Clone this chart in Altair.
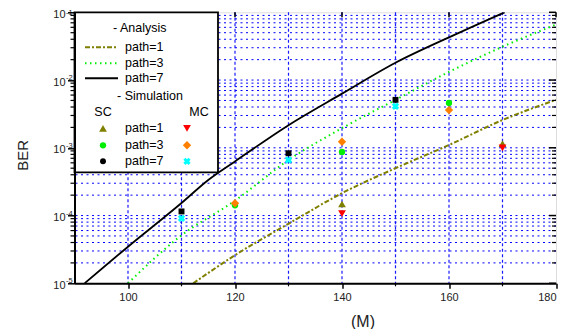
import altair as alt
import pandas as pd

# ---------------- data ----------------
# Analysis curves (M, BER)
p1_m = [112.2, 120, 130.3, 140, 150, 160, 170, 180]
p1_ber = [1e-5, 2.6e-5, 7.8e-5, 2.14e-4, 5.0e-4, 1.1e-3, 2.57e-3, 5.1e-3]
p3_m = [100, 109.7, 120, 130, 140, 150, 160, 170, 180]
p3_ber = [1e-5, 4.9e-5, 1.66e-4, 6.6e-4, 1.95e-3, 5.1e-3, 1.32e-2, 3.1e-2, 6.6e-2]
p7_m = [91.9, 100, 110, 115, 120, 130, 140, 150, 160, 170.4]
p7_ber = [1e-5, 3.47e-5, 1.53e-4, 3.35e-4, 6.3e-4, 2.16e-3, 6.3e-3, 1.8e-2, 4.27e-2, 1e-1]

# Simulation points
sc1_m, sc1_ber = [140, 170], [1.48e-4, 1.15e-3]
mc1_m, mc1_ber = [140, 170], [1.07e-4, 1.0e-3]
sc3_m, sc3_ber = [120, 140, 160], [1.42e-4, 8.7e-4, 4.6e-3]
mc3_m, mc3_ber = [120, 140, 160], [1.52e-4, 1.23e-3, 3.6e-3]
sc7_m, sc7_ber = [110, 130, 150], [1.15e-4, 8.3e-4, 5.1e-3]
mc7_m, mc7_ber = [110, 130, 150], [9.1e-5, 6.6e-4, 4.1e-3]

# axis ticks
x_major = [100, 120, 140, 160, 180]
x_minor = [110, 130, 150, 170]
x_grid = [100, 110, 120, 130, 140, 150, 160, 170]
decade_exp = [-1, -2, -3, -4, -5]
decades = [10.0 ** e for e in decade_exp]
y_minor = [m * 10.0 ** e for e in [-5, -4, -3, -2] for m in range(2, 10)]
y_grid = [m * 10.0 ** e for e in [-5, -4, -3, -2] for m in range(1, 10)][1:]

# ---------------- layout ----------------
W, H = 481.5, 271
FONT = "Liberation Sans"
TXT = "#222222"
xs = alt.Scale(domain=[90, 180], nice=False, zero=False)
ys = alt.Scale(type="log", domain=[1e-5, 1e-1], nice=False)
X_AX = alt.Axis(values=x_major, format="d", tickSize=5, tickWidth=1.5, tickColor="black",
                domainColor="black", domainWidth=2, labelFontSize=11, labelPadding=3,
                labelColor=TXT, labelFont=FONT, grid=False, title=None, zindex=1)
Y_AX = alt.Axis(values=decades, labels=False, tickSize=7, tickWidth=1.5, tickColor="black",
                domainColor="black", domainWidth=2, grid=False, title=None, zindex=1)


def X(f="m"):
    return alt.X(f + ":Q", scale=xs, axis=X_AX)


def Y(f="ber"):
    return alt.Y(f + ":Q", scale=ys, axis=Y_AX)


def one():
    return alt.Data(values=[{"a": 1}])


layers = []

# grid
layers.append(alt.Chart(pd.DataFrame({"m": x_grid})).mark_rule(
    color="#1a1aff", strokeDash=[3, 2.5], strokeWidth=1.2).encode(x=X()))
layers.append(alt.Chart(pd.DataFrame({"ber": y_grid})).mark_rule(
    color="#0000ff", strokeDash=[2, 3.5], strokeWidth=1).encode(y=Y()))

# analysis lines
layers.append(alt.Chart(pd.DataFrame({"m": p1_m, "ber": p1_ber})).mark_line(
    color="#808000", strokeWidth=2, strokeDash=[5, 2, 2, 2], interpolate="monotone", clip=True
).encode(x=X(), y=Y()))
layers.append(alt.Chart(pd.DataFrame({"m": p3_m, "ber": p3_ber})).mark_line(
    color="#00ee00", strokeWidth=2, strokeDash=[1.5, 3.5], interpolate="monotone", clip=True
).encode(x=X(), y=Y()))
layers.append(alt.Chart(pd.DataFrame({"m": p7_m, "ber": p7_ber})).mark_line(
    color="black", strokeWidth=1.8, interpolate="monotone", clip=True
).encode(x=X(), y=Y()))

# simulation markers
MK = [
    (sc1_m, sc1_ber, "triangle-up", "#808000", 60, 0),
    (mc1_m, mc1_ber, "triangle-down", "#ff0000", 60, 0),
    (sc3_m, sc3_ber, "circle", "#00ee00", 40, 0),
    (mc3_m, mc3_ber, "diamond", "#ff8000", 70, 0),
    (sc7_m, sc7_ber, "square", "black", 35, 0),
    (mc7_m, mc7_ber, "cross", "#00ffff", 55, 45),
]
for mm, bb, shp, col, sz, ang in MK:
    layers.append(alt.Chart(pd.DataFrame({"m": mm, "ber": bb})).mark_point(
        shape=shp, color=col, filled=True, size=sz, opacity=1, angle=ang
    ).encode(x=X(), y=Y()))

# extra ticks: left minor (outward), right (inward), top (inward), bottom minor
layers.append(alt.Chart(pd.DataFrame({"ber": y_minor})).mark_rule(color="black", strokeWidth=1.2).encode(
    y=Y(), x=alt.value(-4), x2=alt.value(0)))
layers.append(alt.Chart(pd.DataFrame({"ber": y_minor})).mark_rule(color="black", strokeWidth=1.2).encode(
    y=Y(), x=alt.value(W - 4), x2=alt.value(W)))
layers.append(alt.Chart(pd.DataFrame({"ber": decades})).mark_rule(color="black", strokeWidth=1.5).encode(
    y=Y(), x=alt.value(W - 7), x2=alt.value(W)))
layers.append(alt.Chart(pd.DataFrame({"m": x_major})).mark_tick(
    color="black", thickness=1.5, size=5, opacity=1).encode(x=X(), y=alt.value(2.5)))
layers.append(alt.Chart(pd.DataFrame({"m": x_minor})).mark_tick(
    color="black", thickness=1.2, size=3, opacity=1).encode(x=X(), y=alt.value(H + 1.5)))

# y tick labels 10^n
lab = pd.DataFrame({"ber": decades, "e": [str(e) for e in decade_exp]})
layers.append(alt.Chart(lab).mark_text(align="right", baseline="alphabetic", dy=5.5, fontSize=11,
                                       font=FONT, color=TXT).encode(
    y=Y(), x=alt.value(-9), text=alt.value("10")))
layers.append(alt.Chart(lab.iloc[1:]).mark_text(align="left", baseline="alphabetic", dy=0, fontSize=7.5,
                                                font=FONT, color=TXT).encode(
    y=Y(), x=alt.value(-8.5), text="e:N"))
layers.append(alt.Chart(lab.iloc[:1]).mark_text(align="left", baseline="alphabetic", dy=2.5, fontSize=7.5,
                                                font=FONT, color=TXT).encode(
    y=Y(), x=alt.value(-8.5), text="e:N"))

# axis titles
layers.append(alt.Chart(one()).mark_text(angle=270, fontSize=15, font=FONT, color=TXT,
                                         align="center", baseline="middle").encode(
    x=alt.value(-52), y=alt.value(143), text=alt.value("BER")))
layers.append(alt.Chart(one()).mark_text(fontSize=16, font=FONT, color=TXT,
                                         align="center", baseline="middle").encode(
    x=alt.value(288.5), y=alt.value(310), text=alt.value("(M)")))

# ---------------- custom legend ----------------
layers.append(alt.Chart(one()).mark_rect(fill="white", stroke="black", strokeWidth=1.8).encode(
    x=alt.value(0), x2=alt.value(143.5), y=alt.value(0), y2=alt.value(160)))


def ltext(txt, x, y, align="left"):
    return alt.Chart(one()).mark_text(align=align, baseline="middle", fontSize=12.5, font=FONT,
                                      color="black").encode(
        x=alt.value(x), y=alt.value(y), text=alt.value(txt))


def lline(y, **kw):
    return alt.Chart(one()).mark_rule(**kw).encode(x=alt.value(10.5), x2=alt.value(43.5), y=alt.value(y))


def lpt(x, y, shp, col, sz, ang=0):
    return alt.Chart(one()).mark_point(shape=shp, color=col, filled=True, size=sz, opacity=1,
                                       angle=ang).encode(x=alt.value(x), y=alt.value(y))


layers.append(ltext("- Analysis", 38.5, 16))
layers.append(lline(35, color="#808000", strokeWidth=2, strokeDash=[5, 2, 2, 2]))
layers.append(ltext("path=1", 50.5, 35))
layers.append(lline(51, color="#00ee00", strokeWidth=2, strokeDash=[1.5, 3.5]))
layers.append(ltext("path=3", 50.5, 51))
layers.append(lline(66, color="black", strokeWidth=2))
layers.append(ltext("path=7", 50.5, 66))
layers.append(ltext("- Simulation", 42.5, 84))
layers.append(ltext("SC", 28.5, 100, "center"))
layers.append(ltext("MC", 124.5, 100, "center"))
rows = [(116, "path=1", ("triangle-up", "#808000", 60, 0), ("triangle-down", "#ff0000", 60, 0)),
        (133, "path=3", ("circle", "#00ee00", 40, 0), ("diamond", "#ff8000", 70, 0)),
        (149, "path=7", ("circle", "black", 35, 0), ("cross", "#00ffff", 55, 45))]
for yy, t, a, b in rows:
    layers.append(lpt(28.5, yy, *a))
    layers.append(ltext(t, 50.5, yy))
    layers.append(lpt(112.5, yy, *b))

chart = alt.layer(*layers).properties(
    width=W, height=H,
    autosize=alt.AutoSizeParams(type="none"),
    padding={"left": 66.5, "top": 4.3, "right": 4, "bottom": 46},
).configure_view(stroke="black", strokeWidth=2).configure(background="white")

chart.save("out.html", embed_options={"renderer": "svg", "actions": False})
